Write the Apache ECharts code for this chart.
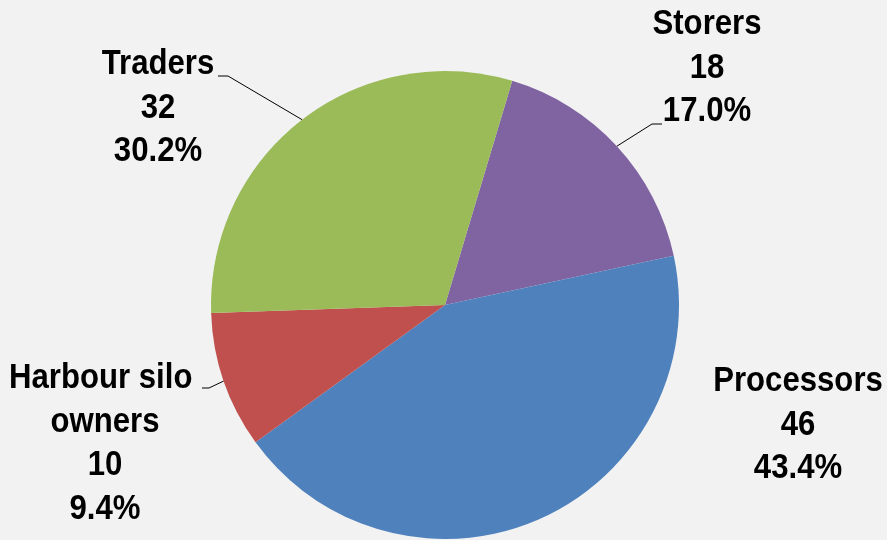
<!DOCTYPE html>
<html>
<head>
<meta charset="utf-8">
<script src="https://cdn.jsdelivr.net/npm/echarts@6/dist/echarts.min.js"></script>
<style>
html,body{margin:0;padding:0;background:#F2F2F2;}
#chart{width:887px;height:540px;}
</style>
</head>
<body>
<div id="chart"></div>
<script>
// Data (clockwise order starting at the Traders/Storers boundary)
var categories = ['Storers', 'Processors', 'Harbour silo owners', 'Traders'];
var values = [18, 46, 10, 32];
var colors = ['#8064A2', '#4F81BD', '#C0504D', '#9BBB59'];

// Label placement (text anchor = top centre of the label block) and leader geometry
var labelPlace = [
  { x: 707, y: 3,   line: [[652, 124], [662, 124]] },
  { x: 798, y: 360, line: null },
  { x: 105, y: 357, line: [[209, 388], [202, 388]] },
  { x: 158, y: 43,  line: [[228, 76], [218, 76]] }
];

var FONT = '"Liberation Sans Narrow", "Arial Narrow", "Liberation Sans", Arial, sans-serif';
var TEXT_SCALE_X = 0.89; // narrow the bold sans to match the condensed face

var data = categories.map(function (name, i) {
  var item = {
    name: name,
    value: values[i],
    itemStyle: { color: colors[i] },
    labelLine: { show: labelPlace[i].line !== null }
  };
  if (name === 'Harbour silo owners') {
    item.label = { width: 240, overflow: 'break' };
  }
  return item;
});

var chart = echarts.init(document.getElementById('chart'), null, { renderer: 'canvas' });
chart.setOption({
  backgroundColor: '#F2F2F2',
  animation: false,
  series: [{
    type: 'pie',
    center: [445, 305],
    radius: 234,
    startAngle: 73.3,
    clockwise: true,
    avoidLabelOverlap: false,
    percentPrecision: 1,
    data: data,
    label: {
      show: true,
      position: 'outside',
      color: '#000',
      fontFamily: FONT,
      fontWeight: 'bold',
      fontSize: 35,
      lineHeight: 43.5,
      align: 'center',
      formatter: function (p) {
        return p.name + '\n' + p.value + '\n' + p.percent.toFixed(1) + '%';
      }
    },
    labelLine: {
      show: true,
      length: 20,
      length2: 10,
      lineStyle: { color: '#000', width: 1 }
    },
    labelLayout: function (params) {
      var pl = labelPlace[params.dataIndex];
      var out = { x: pl.x, y: pl.y, align: 'center', verticalAlign: 'top' };
      if (pl.line && params.labelLinePoints) {
        out.labelLinePoints = [params.labelLinePoints[0], pl.line[0], pl.line[1]];
      }
      return out;
    },
    emphasis: { disabled: true }
  }]
});

// Condense the label text horizontally (keeps it as real text)
var zr = chart.getZr();
var seen = [];
zr.storage.getDisplayList(true).forEach(function (el) {
  var t = null;
  if (el.type === 'text') t = el;
  else if (el.type === 'tspan' && el.parent && el.parent.type === 'text') t = el.parent;
  if (t && seen.indexOf(t) < 0) {
    seen.push(t);
    t.scaleX = TEXT_SCALE_X;
    t.markRedraw();
    if (t.dirty) t.dirty();
  }
});
zr.refreshImmediately();
</script>
</body>
</html>
